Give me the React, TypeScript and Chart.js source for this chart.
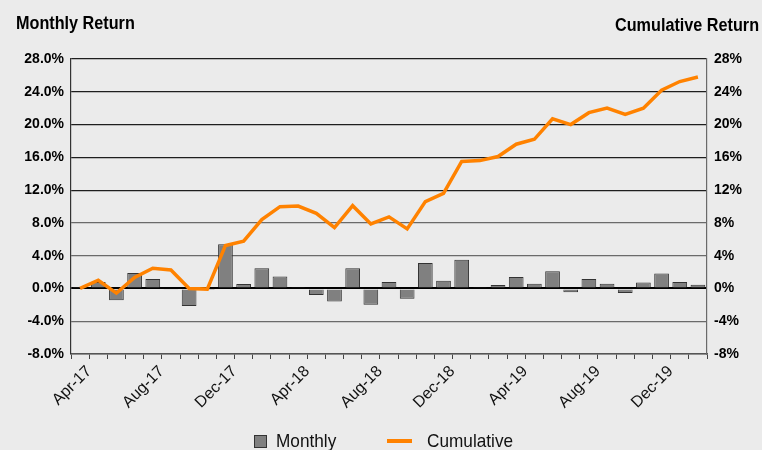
import React, { useEffect, useRef } from "react";
import { Chart, registerables } from "chart.js";

Chart.register(...registerables);

const months = [
  "Apr-17", "May-17", "Jun-17", "Jul-17", "Aug-17", "Sep-17", "Oct-17", "Nov-17",
  "Dec-17", "Jan-18", "Feb-18", "Mar-18", "Apr-18", "May-18", "Jun-18", "Jul-18",
  "Aug-18", "Sep-18", "Oct-18", "Nov-18", "Dec-18", "Jan-19", "Feb-19", "Mar-19",
  "Apr-19", "May-19", "Jun-19", "Jul-19", "Aug-19", "Sep-19", "Oct-19", "Nov-19",
  "Dec-19", "Jan-20", "Feb-20",
];

const monthly = [
  0.05, 0.8, -1.45, 1.9, 1.15, -0.15, -2.15, -0.05, 5.4, 0.55, 2.45, 1.45,
  0.15, -0.8, -1.6, 2.45, -2.0, 0.8, -1.25, 3.1, 0.95, 3.5, 0.15, 0.42,
  1.4, 0.56, 2.1, -0.45, 1.15, 0.56, -0.57, 0.72, 1.82, 0.8, 0.44,
];

const cumulative = [
  0.0, 1.0, -0.57, 1.33, 2.46, 2.26, 0.0, -0.08, 5.25, 5.78, 8.4, 9.98,
  10.06, 9.17, 7.43, 10.1, 7.88, 8.73, 7.27, 10.6, 11.6, 15.5, 15.6, 16.1,
  17.6, 18.2, 20.7, 20.0, 21.45, 22.0, 21.25, 22.0, 24.2, 25.25, 25.8,
];

const axisMin = -8;
const axisMax = 28;
const axisStep = 4;
const labelEvery = 4;

const BG = "#ebebeb";
const BAR = "#808080";
const BAR_BORDER = "#333333";
const LINE = "#ff8200";
const FONT = "'Liberation Sans', Arial, Helvetica, sans-serif";

export default function App() {
  const canvasRef = useRef<HTMLCanvasElement | null>(null);

  useEffect(() => {
    document.body.style.margin = "0";
    document.body.style.background = BG;
    const canvas = canvasRef.current;
    if (!canvas) return;
    const chart = new Chart(canvas, {
      type: "bar",
      data: {
        labels: months,
        datasets: [
          {
            type: "line",
            label: "Cumulative",
            data: cumulative,
            yAxisID: "y1",
            borderColor: LINE,
            backgroundColor: LINE,
            borderWidth: 3.5,
            pointRadius: 0,
            tension: 0,
            order: 0,
          } as any,
          {
            type: "bar",
            label: "Monthly",
            data: monthly,
            yAxisID: "y",
            backgroundColor: BAR,
            borderColor: BAR_BORDER,
            borderWidth: 1,
            barPercentage: 0.81,
            categoryPercentage: 1.0,
            order: 1,
          } as any,
        ],
      },
      options: {
        responsive: false,
        animation: false,
        layout: { padding: { top: 59, bottom: 0, left: 0, right: 0 } },
        plugins: {
          legend: { display: false },
          tooltip: { enabled: false },
        },
        scales: {
          x: {
            type: "category",
            offset: true,
            grid: {
              offset: true,
              drawOnChartArea: false,
              drawTicks: true,
              tickLength: 5,
              color: "#444",
            },
            border: { color: "#555", width: 1.5 },
            ticks: {
              autoSkip: false,
              maxRotation: 45,
              minRotation: 45,
              padding: 3,
              labelOffset: 9,
              color: "#111",
              font: { family: FONT, size: 16 },
              callback: (_v: any, i: number) => (i % labelEvery === 0 ? months[i] : ""),
            },
            afterFit: (s: any) => {
              s.height = 96;
            },
          },
          y: {
            position: "left",
            min: axisMin,
            max: axisMax,
            ticks: {
              stepSize: axisStep,
              padding: 7,
              color: "#000",
              font: { family: FONT, size: 14, weight: "bold" },
              callback: (v: any) => Number(v).toFixed(1) + "%",
            },
            grid: {
              drawTicks: false,
              color: (ctx: any) => {
                const v = ctx.tick ? ctx.tick.value : 0;
                if (v === 0) return "#000";
                return v >= 12 ? "#1e1e1e" : "#6a6a6a";
              },
              lineWidth: (ctx: any) => (ctx.tick && ctx.tick.value === 0 ? 2 : 1.2),
            },
            border: { color: "#333", width: 1.2 },
            afterFit: (s: any) => {
              s.width = 71;
            },
          },
          y1: {
            position: "right",
            min: axisMin,
            max: axisMax,
            ticks: {
              stepSize: axisStep,
              padding: 7,
              color: "#000",
              font: { family: FONT, size: 14, weight: "bold" },
              callback: (v: any) => v + "%",
            },
            grid: { drawOnChartArea: false, drawTicks: false },
            border: { color: "#6a6a6a", width: 1.2 },
            afterFit: (s: any) => {
              s.width = 55;
            },
          },
        },
      } as any,
    });
    return () => chart.destroy();
  }, []);

  const titleBase: React.CSSProperties = {
    position: "absolute",
    fontFamily: FONT,
    fontWeight: "bold",
    fontSize: 18,
    lineHeight: "18px",
    color: "#000",
    whiteSpace: "nowrap",
  };
  const legendText: React.CSSProperties = {
    position: "absolute",
    fontFamily: FONT,
    fontSize: 18.5,
    lineHeight: "18.5px",
    color: "#111",
    whiteSpace: "nowrap",
    top: 432,
  };

  return (
    <div
      style={{
        position: "absolute",
        left: 0,
        top: 0,
        width: 762,
        height: 450,
        background: BG,
        overflow: "hidden",
      }}
    >
      <canvas
        ref={canvasRef}
        width={762}
        height={450}
        style={{ position: "absolute", left: 0, top: 0, width: 762, height: 450 }}
      />
      <div style={{ ...titleBase, left: 16, top: 14, transform: "scaleX(0.9)", transformOrigin: "left" }}>
        Monthly Return
      </div>
      <div style={{ ...titleBase, right: 3, top: 16, transform: "scaleX(0.9)", transformOrigin: "right" }}>
        Cumulative Return
      </div>
      <div
        style={{
          position: "absolute",
          left: 254,
          top: 435,
          width: 11,
          height: 11,
          background: BAR,
          border: `1px solid ${BAR_BORDER}`,
        }}
      />
      <div style={{ ...legendText, left: 276, transform: "scaleX(0.93)", transformOrigin: "left" }}>Monthly</div>
      <div
        style={{
          position: "absolute",
          left: 387,
          top: 439,
          width: 25,
          height: 4,
          background: LINE,
        }}
      />
      <div style={{ ...legendText, left: 427, transform: "scaleX(0.93)", transformOrigin: "left" }}>Cumulative</div>
    </div>
  );
}
